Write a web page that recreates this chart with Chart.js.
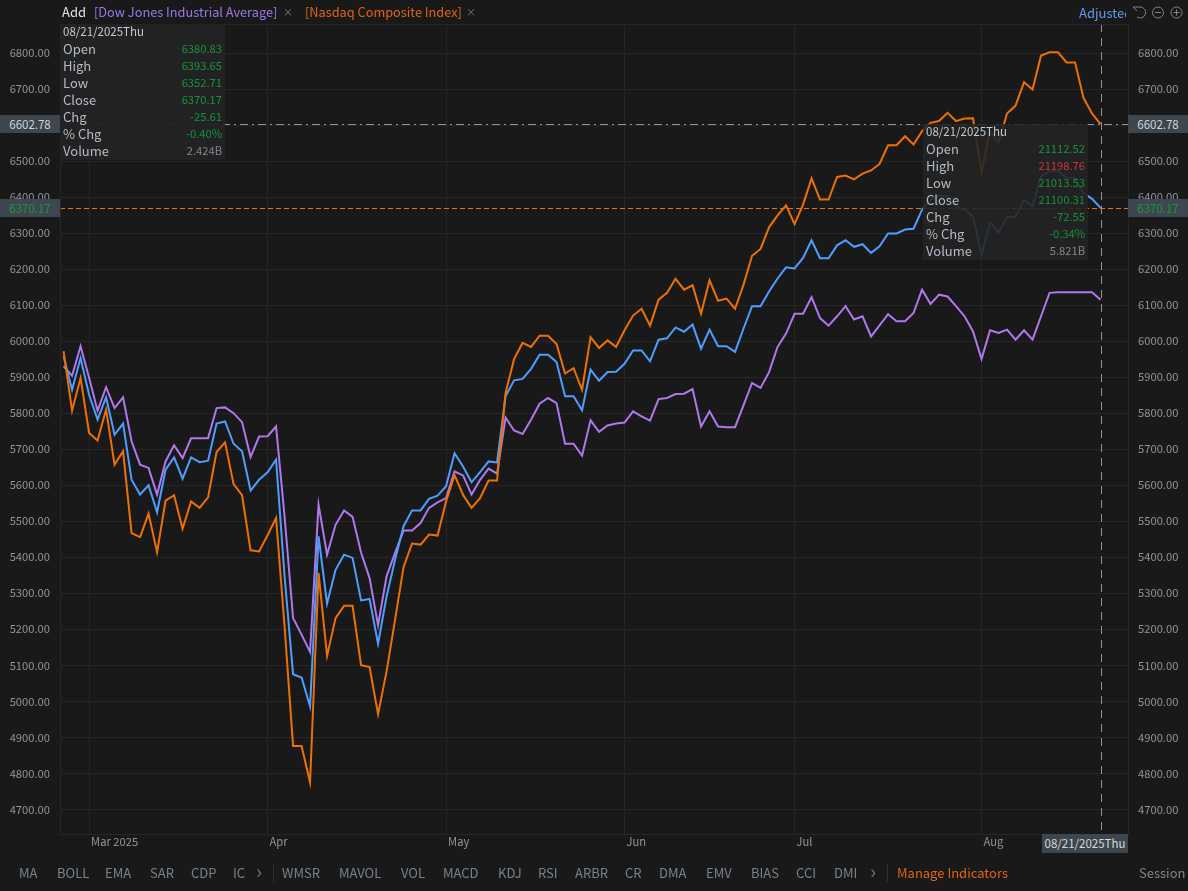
<!DOCTYPE html>
<html>
<head>
<meta charset="utf-8">
<script src="https://cdn.jsdelivr.net/npm/chart.js@4"></script>
<style>
html,body{margin:0;padding:0;background:#191919;overflow:hidden}
#stage{position:relative;width:1188px;height:891px;font-family:"Noto Sans CJK SC","Noto Sans",sans-serif;font-size:12px;color:#8f959c}
canvas{position:absolute;left:0;top:0}
.t{position:absolute;white-space:nowrap;line-height:16px;transform:translateY(-50%)}
.panel{position:absolute;width:165px;height:136px}
.row{position:absolute;left:3px;right:3px;height:17px;line-height:17px;font-size:13px;color:#b4bdc7}
.row b{position:absolute;right:0;top:0;font-weight:400;font-size:11.2px}
.badge{position:absolute;width:60px;height:18px;line-height:18px;text-align:center;background:#3e474f;font-size:11.5px}
</style>
</head>
<body>
<div id="stage">
<canvas id="c" width="1188" height="891"></canvas>
</div>
<script>
const categories = ["02/26","02/27","02/28",
"03/03","03/04","03/05","03/06","03/07","03/10","03/11","03/12","03/13","03/14","03/17","03/18","03/19","03/20","03/21","03/24","03/25","03/26","03/27","03/28","03/31",
"04/01","04/02","04/03","04/04","04/07","04/08","04/09","04/10","04/11","04/14","04/15","04/16","04/17","04/21","04/22","04/23","04/24","04/25","04/28","04/29","04/30",
"05/01","05/02","05/05","05/06","05/07","05/08","05/09","05/12","05/13","05/14","05/15","05/16","05/19","05/20","05/21","05/22","05/23","05/27","05/28","05/29","05/30",
"06/02","06/03","06/04","06/05","06/06","06/09","06/10","06/11","06/12","06/13","06/16","06/17","06/18","06/20","06/23","06/24","06/25","06/26","06/27","06/30",
"07/01","07/02","07/03","07/07","07/08","07/09","07/10","07/11","07/14","07/15","07/16","07/17","07/18","07/21","07/22","07/23","07/24","07/25","07/28","07/29","07/30","07/31",
"08/01","08/04","08/05","08/06","08/07","08/08","08/11","08/12","08/13","08/14","08/15","08/18","08/19","08/20","08/21"];
const monthStarts = ["03/03","04/01","05/01","06/02","07/01","08/01"];
const monthLabels = ["Mar 2025","Apr","May","Jun","Jul","Aug"];
const yTicks = [4700,4800,4900,5000,5100,5200,5300,5400,5500,5600,5700,5800,5900,6000,6100,6200,6300,6400,6500,6600,6700,6800];

const mainValues = [5958,5865,5953,5851,5782,5844,5740,5771,5615,5574,5600,5525,5643,5677,5618,5677,5664,5668,5771,5777,5715,5694,5585,5615,5636,5671,
5347,5075,5066,4986,5458,5271,5365,5407,5398,5280,5284,5160,5291,5393,5486,5530,5530,5562,5571,5597,
5689,5652,5608,5636,5666,5663,5847,5891,5895,5923,5962,5962,5942,5847,5847,5808,5921,5890,5914,5915,5937,5974,5974,5944,6004,6008,6038,6026,6046,
5979,6032,5986,5986,5970,6035,6097,6097,6138,6174,6205,6202,6231,6280,6230,6230,6266,6280,6262,6269,6245,6263,6299,6299,6310,6312,6365,
6393,6402,6402,6374,6365,6345,6240,6330,6302,6345,6345,6393,6374,6458,6472,6472,6453,6453,6411,6395,6370.17];
const nasdaqValues = [5972,5807,5898,5745,5724,5810,5657,5694,5467,5456,5521,5414,5557,5572,5479,5555,5537,5566,5692,5719,5603,5572,5419,5416,5461,5509,
5208,4876,4876,4775,5356,5126,5231,5265,5265,5100,5095,4964,5083,5226,5373,5438,5435,5463,5460,5555,
5628,5573,5537,5564,5613,5613,5856,5950,5995,5984,6015,6015,5992,5910,5925,5865,6011,5981,6002,5984,6030,6071,6090,6043,6115,6134,6173,6143,6155,
6076,6169,6112,6118,6090,6157,6237,6256,6316,6349,6377,6325,6379,6452,6393,6393,6456,6460,6449,6465,6474,6492,6544,6544,6569,6546,6583,
6606,6611,6634,6611,6618,6619,6467,6583,6552,6632,6654,6719,6699,6793,6802,6802,6774,6774,6675,6632,6602.78];
const dowValues = [5930,5904,5986,5898,5807,5872,5814,5844,5722,5657,5648,5574,5666,5711,5675,5730,5730,5730,5814,5816,5800,5775,5678,5735,5736,5763,
5513,5231,5185,5137,5546,5407,5490,5530,5512,5413,5342,5211,5347,5412,5474,5474,5495,5537,5552,5564,
5638,5627,5574,5615,5646,5632,5788,5752,5742,5782,5826,5842,5828,5715,5715,5682,5780,5748,5766,5771,5774,5805,5791,5779,5839,5842,5853,5854,5867,
5763,5805,5763,5761,5761,5822,5884,5870,5914,5984,6021,6076,6076,6122,6064,6043,6069,6097,6060,6069,6013,6044,6075,6055,6055,6078,6143,
6103,6129,6124,6097,6069,6027,5950,6030,6023,6032,6004,6030,6004,6069,6134,6136,6136,6136,6136,6136,6115];

const crossValue = 6602.78;
const closeValue = 6370.17;
const hoverIndex = 122;

const panelLabels = ["Open","High","Low","Close","Chg","% Chg","Volume"];
const panelDate = "08/21/2025Thu";
const panelOne = ["6380.83","6393.65","6352.71","6370.17","-25.61","-0.40%","2.424B"];
const panelOneColors = ["g","g","g","g","g","g","n"];
const panelTwo = ["21112.52","21198.76","21013.53","21100.31","-72.55","-0.34%","5.821B"];
const panelTwoColors = ["g","r","g","g","g","g","n"];

const toolbarLeft = [["MA",19],["BOLL",57],["EMA",105],["SAR",150],["CDP",191],["IC",233],["WMSR",282],["MAVOL",339],["VOL",401],["MACD",443],["KDJ",498],["RSI",538],["ARBR",575],["CR",625],["DMA",659],["EMV",706],["BIAS",751],["CCI",796],["DMI",834]];

const COLORS = {bg:"#191919",grid:"#262626",axis:"#8f959c",orange:"#ee7000",blue:"#4c9eff",purple:"#b077ee",green:"#15953f",red:"#c9383c",neutral:"#7f8892"};

const pts = arr => arr.map((y,x)=>({x,y}));
const xMin = -0.42, xMax = 125.23, yMin = 4631.4, yMax = 6880.6;

const overlays = {
  id:"overlays",
  afterDatasetsDraw(chart){
    const {ctx,chartArea:a,scales:{x,y}} = chart;
    ctx.save();
    ctx.lineWidth = 1;
    const yc = Math.round(y.getPixelForValue(crossValue))+.5;
    ctx.strokeStyle = "#8d9297";
    ctx.setLineDash([8,4,2,4]);
    ctx.beginPath();ctx.moveTo(a.left,yc);ctx.lineTo(a.right,yc);ctx.stroke();
    ctx.setLineDash([8,6]);
    const xc = Math.round(x.getPixelForValue(hoverIndex))+.5;
    ctx.beginPath();ctx.moveTo(xc,a.top);ctx.lineTo(xc,a.bottom);ctx.stroke();
    const yo = Math.round(y.getPixelForValue(closeValue))+.5;
    ctx.strokeStyle = COLORS.orange;
    ctx.setLineDash([5,3]);
    ctx.beginPath();ctx.moveTo(a.left,yo);ctx.lineTo(a.right,yo);ctx.stroke();
    ctx.setLineDash([]);
    ctx.strokeStyle = COLORS.grid;
    ctx.strokeRect(Math.round(a.left)+.5,Math.round(a.top)+.5,Math.round(a.right-a.left),Math.round(a.bottom-a.top));
    ctx.restore();
  }
};

const monthIdx = monthStarts.map(m=>categories.indexOf(m));
const font = {family:'"Noto Sans CJK SC","Noto Sans",sans-serif',size:11.2};

const chart = new Chart(document.getElementById("c"),{
  type:"line",
  data:{datasets:[
    {label:"Nasdaq Composite Index",data:pts(nasdaqValues),borderColor:COLORS.orange},
    {label:"S&P 500",data:pts(mainValues),borderColor:COLORS.blue},
    {label:"Dow Jones Industrial Average",data:pts(dowValues),borderColor:COLORS.purple}
  ].map(d=>Object.assign(d,{borderWidth:2,pointRadius:0,tension:0,fill:false}))},
  options:{
    responsive:false,animation:false,devicePixelRatio:1,
    layout:{padding:{top:24,bottom:32,left:0,right:0}},
    plugins:{legend:{display:false},tooltip:{enabled:false}},
    events:[],
    scales:{
      x:{type:"linear",min:xMin,max:xMax,
        afterBuildTicks(s){s.ticks = monthIdx.map(v=>({value:v}));},
        afterFit(s){s.height = 25;},
        grid:{color:COLORS.grid,drawTicks:false,lineWidth:1},
        border:{display:false},
        ticks:{autoSkip:false,maxRotation:0,align:"start",padding:1,labelOffset:2,color:COLORS.axis,font,
          callback(v){return monthLabels[monthIdx.indexOf(v)] ?? "";}}
      },
      y:{type:"linear",position:"left",min:yMin,max:yMax,
        afterBuildTicks(s){s.ticks = yTicks.map(v=>({value:v}));},
        afterFit(s){s.width = 60;},
        grid:{color:COLORS.grid,drawTicks:false,lineWidth:1},
        border:{display:false},
        ticks:{padding:10,color:COLORS.axis,font,callback:v=>v.toFixed(2)}
      },
      y2:{type:"linear",position:"right",min:yMin,max:yMax,
        afterBuildTicks(s){s.ticks = yTicks.map(v=>({value:v}));},
        afterFit(s){s.width = 60;},
        grid:{display:false,drawTicks:false},
        border:{display:false},
        ticks:{padding:10,color:COLORS.axis,font,callback:v=>v.toFixed(2)}
      }
    }
  },
  plugins:[overlays]
});

/* DOM chrome: header, panels, badges, toolbar */
const stage = document.getElementById("stage");
function el(cls,css,text,parent){
  const d=document.createElement("div");d.className=cls;d.style.cssText=css;
  if(text!==undefined)d.textContent=text;(parent||stage).appendChild(d);return d;
}
el("t","left:62px;top:12px;color:#dfe3e6;font-size:13px","Add");
el("t","left:94px;top:12px;color:#9a78e8;font-size:12.75px","[Dow Jones Industrial Average]");
el("t","left:283px;top:12px;color:#70767c;font-size:10px","×");
el("t","left:305px;top:12px;color:#e0640f;font-size:12.75px","[Nasdaq Composite Index]");
el("t","left:466px;top:12px;color:#70767c;font-size:10px","×");
el("t","left:1079px;top:13px;width:47px;overflow:hidden;color:#5b9cf2;font-size:13px","Adjusted");
const icons=document.createElement("div");
icons.style.cssText="position:absolute;left:1130px;top:4px;width:56px;height:16px";
icons.innerHTML='<svg width="56" height="16" fill="none" stroke="#7f858b" stroke-width="1"><path d="M3 3h7a5.5 5.5 0 1 1-3 10"/><path d="M3 3l4 4"/><circle cx="28" cy="8.5" r="5.5"/><path d="M25 8.5h6"/><circle cx="46.5" cy="8.5" r="5.5"/><path d="M43.5 8.5h6M46.5 5.5v6"/></svg>';
stage.appendChild(icons);

function panel(left,top,bg,vals,cols){
  const p=el("panel",`left:${left}px;top:${top}px;background:${bg}`);
  el("row",`top:-1px;font-size:11.5px;color:#c4cbd2`,panelDate,p);
  panelLabels.forEach((l,i)=>{
    const r=el("row",`top:${16+i*17}px`,l,p);
    const b=document.createElement("b");
    b.textContent=vals[i];
    b.style.color={g:COLORS.green,r:COLORS.red,n:COLORS.neutral}[cols[i]];
    r.appendChild(b);
  });
}
panel(60,24,"rgba(35,35,35,.97)",panelOne,panelOneColors);
panel(923,124,"rgba(35,35,35,.88)",panelTwo,panelTwoColors);

const yS = chart.scales.y;
function badges(v,color){
  const top=Math.round(yS.getPixelForValue(v))-9;
  el("badge",`left:0;top:${top}px;color:${color}`,v.toFixed(2));
  el("badge",`left:1128px;top:${top}px;color:${color}`,v.toFixed(2));
}
badges(crossValue,"#cfd4d9");
badges(closeValue,COLORS.green);
el("badge","left:1042px;top:834px;width:86px;height:19px;line-height:19px;color:#d5d9dd;font-size:11.5px",panelDate);

toolbarLeft.forEach(([s,x])=>el("t",`left:${x}px;top:873px;color:#76838f;font-size:13px`,s));
el("t","left:256px;top:871px;color:#6d7278;font-size:20px","›");
el("t","left:870px;top:871px;color:#6d7278;font-size:20px","›");
el("","position:absolute;left:273px;top:864px;width:1px;height:18px;background:#2d2f31");
el("","position:absolute;left:887px;top:864px;width:1px;height:18px;background:#2d2f31");
el("t","left:897px;top:873px;color:#e0640f;font-size:13px","Manage Indicators");
el("t","left:1139px;top:873px;color:#7d858c;font-size:13px","Session");
</script>
</body>
</html>
